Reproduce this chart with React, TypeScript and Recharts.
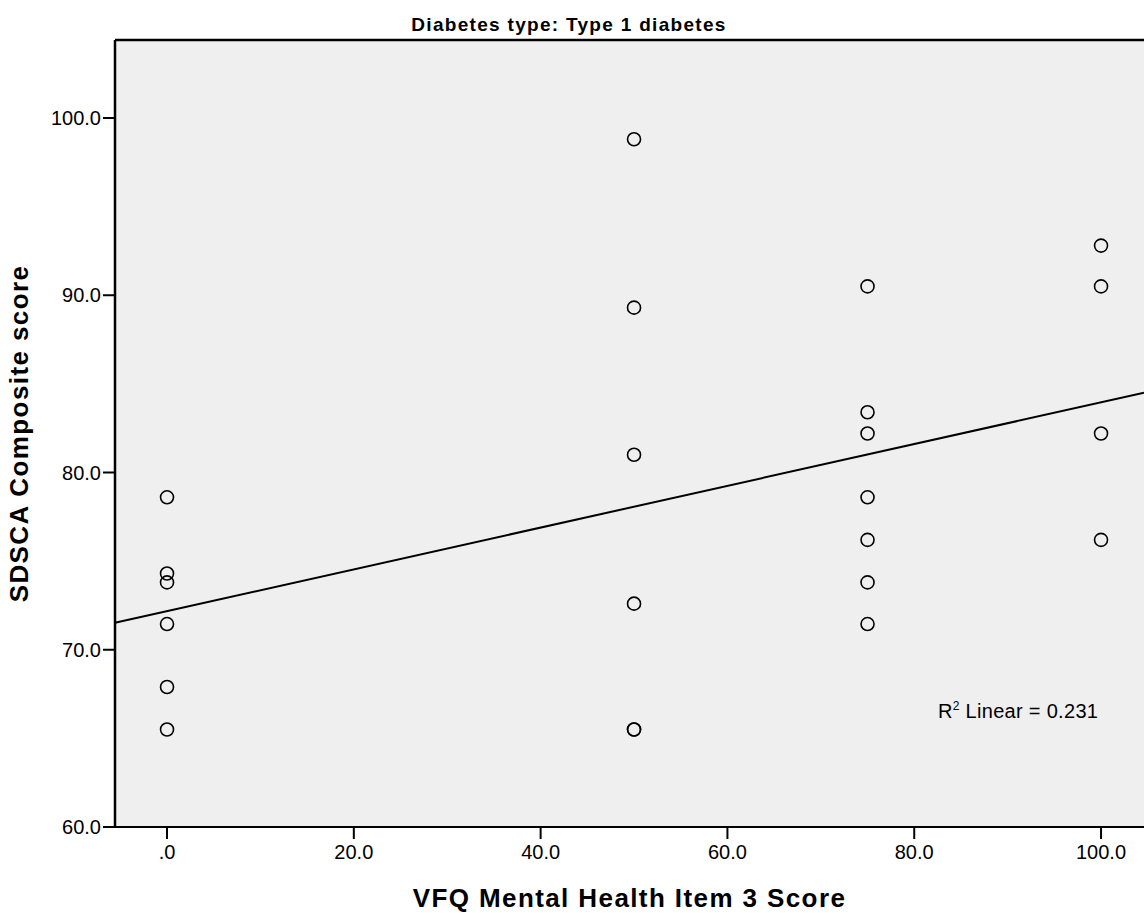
import React from 'react';
import {
  CartesianGrid,
  ReferenceLine,
  Scatter,
  ScatterChart,
  XAxis,
  YAxis,
} from 'recharts';

// VFQ item 3 score and SDSCA composite score, one entry per respondent
const vfqScores = [
  0, 0, 0, 0, 0, 0,
  50, 50, 50, 50, 50, 50,
  75, 75, 75, 75, 75, 75, 75,
  100, 100, 100, 100,
];
const sdscaScores = [
  78.6, 74.3, 73.8, 71.45, 67.9, 65.5,
  98.8, 89.3, 81.0, 72.6, 65.5, 65.5,
  90.5, 83.4, 82.2, 78.6, 76.2, 73.8, 71.45,
  92.8, 90.5, 82.2, 76.2,
];

const xTicks = [0, 20, 40, 60, 80, 100];
const yTicks = [60, 70, 80, 90, 100];
const xDomain: [number, number] = [-5.57, 104.6];
const yDomain: [number, number] = [60, 104.4];

// fit line as shown (R2 linear = 0.231)
const fitIntercept = 72.18;
const fitSlope = 0.1178;
const rSquared = '0.231';

const points = vfqScores.map((x, i) => ({ x, y: sdscaScores[i] }));

const FONT = '"Liberation Sans", Arial, sans-serif';

const fmt = (v: number) => (v === 0 ? '.0' : v.toFixed(1));

const Ring = (props: any) => (
  <circle cx={props.cx} cy={props.cy} r={6.5} fill="none" stroke="#000" strokeWidth={1.6} />
);

export default function App(): JSX.Element {
  const fitLine = xDomain.map(x => ({ x, y: fitIntercept + fitSlope * x }));
  return (
    <div style={{ position: 'absolute', left: 0, top: 0, width: 1144, height: 913, fontFamily: FONT, background: '#fff' }}>
      <div
        style={{
          position: 'absolute',
          left: 0,
          width: 1138,
          top: 14,
          textAlign: 'center',
          fontWeight: 'bold',
          fontSize: 19,
          letterSpacing: 1.3,
          color: '#000',
        }}
      >
        Diabetes type: Type 1 diabetes
      </div>
      <ScatterChart width={1144} height={913} margin={{ top: 40, right: 0, left: 50, bottom: 46 }}>
        <CartesianGrid fill="#efefef" stroke="none" horizontal={false} vertical={false} />
        <XAxis
          type="number"
          dataKey="x"
          domain={xDomain}
          ticks={xTicks}
          allowDataOverflow
          tickFormatter={fmt}
          height={40}
          tickSize={12}
          axisLine={{ stroke: '#000', strokeWidth: 2 }}
          tickLine={{ stroke: '#000', strokeWidth: 2 }}
          tick={{ fill: '#000', fontSize: 20, fontFamily: FONT, dy: 4 }}
          label={{
            value: 'VFQ Mental Health Item 3 Score',
            position: 'insideBottom',
            offset: -40,
            fill: '#000',
            fontSize: 26,
            fontWeight: 'bold',
            fontFamily: FONT,
            style: { letterSpacing: 1.4 },
          }}
        />
        <YAxis
          type="number"
          dataKey="y"
          domain={yDomain}
          ticks={yTicks}
          allowDataOverflow
          tickFormatter={(v: number) => v.toFixed(1)}
          width={65}
          tickSize={12}
          axisLine={{ stroke: '#000', strokeWidth: 2.5 }}
          tickLine={{ stroke: '#000', strokeWidth: 2 }}
          tick={{ fill: '#000', fontSize: 20, fontFamily: FONT }}
          label={{
            value: 'SDSCA Composite score',
            angle: -90,
            position: 'insideLeft',
            offset: -31,
            fill: '#000',
            fontSize: 26,
            fontWeight: 'bold',
            fontFamily: FONT,
            style: { textAnchor: 'middle', letterSpacing: 1.4 },
          }}
        />
        <ReferenceLine y={yDomain[1]} stroke="#000" strokeWidth={2.5} />
        <ReferenceLine
          segment={fitLine}
          stroke="#000"
          strokeWidth={2}
          ifOverflow="visible"
        />
        <Scatter data={points} shape={Ring} isAnimationActive={false} />
      </ScatterChart>
      <div
        style={{
          position: 'absolute',
          left: 938,
          top: 700,
          fontSize: 20,
          letterSpacing: 0.3,
          color: '#000',
        }}
      >
        R<sup style={{ fontSize: 12, verticalAlign: 'top', lineHeight: 1 }}>2</sup> Linear = {rSquared}
      </div>
    </div>
  );
}
